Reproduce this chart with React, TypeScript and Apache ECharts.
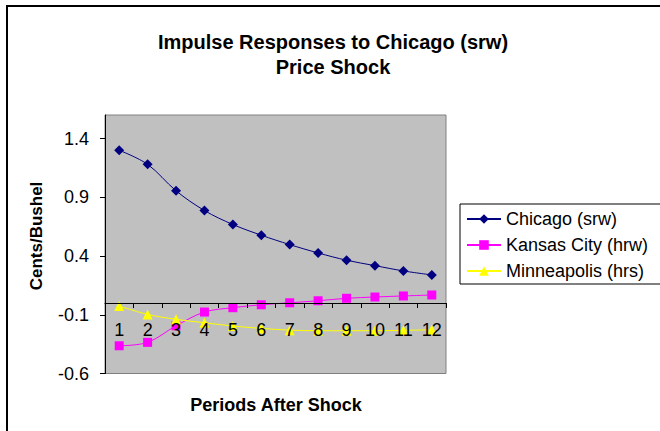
import React, { useEffect, useRef } from "react";
import * as echarts from "echarts";

const periods = ["1", "2", "3", "4", "5", "6", "7", "8", "9", "10", "11", "12"];
const chicago = [1.30, 1.18, 0.955, 0.787, 0.668, 0.577, 0.497, 0.426, 0.364, 0.318, 0.273, 0.239];
const kansasCity = [-0.364, -0.335, -0.194, -0.077, -0.04, -0.015, 0.002, 0.019, 0.04, 0.051, 0.06, 0.068];
const minneapolis = [-0.026, -0.097, -0.139, -0.168, -0.196, -0.216, -0.231, -0.236, -0.236, -0.236, -0.233, -0.228];
const yTicks = [-0.6, -0.1, 0.4, 0.9, 1.4];
const yMin = -0.6;
const yMax = 1.6;

const FONT = 'Arial, "Liberation Sans", sans-serif';

export default function App() {
  const ref = useRef<HTMLDivElement>(null);
  useEffect(() => {
    if (!ref.current) return;
    const chart = echarts.init(ref.current, null, { renderer: "svg" });
    const gridTop = 115;
    const gridHeight = 258.5;
    // distance from the grid bottom up to value 0, so the category axis sits on zero
    const zeroOffset = -((0 - yMin) / (yMax - yMin)) * gridHeight;
    const mk = (name: string, data: number[], color: string, symbol: string, size: number) => ({
      name,
      type: "line",
      data,
      smooth: 0.35,
      symbol,
      symbolSize: size,
      showSymbol: true,
      lineStyle: { color, width: 1 },
      itemStyle: { color, borderWidth: 0 },
      emphasis: { disabled: true },
    });
    chart.setOption({
      animation: false,
      textStyle: { fontFamily: FONT },
      title: {
        text: "Impulse Responses to Chicago (srw)\nPrice Shock",
        left: 328,
        top: 24,
        textAlign: "center",
        textStyle: { fontSize: 20, fontWeight: "bold", color: "#000", lineHeight: 25, fontFamily: FONT },
      },
      grid: {
        left: 105,
        top: gridTop,
        width: 341,
        height: gridHeight,
        show: true,
        backgroundColor: "#C0C0C0",
        borderColor: "#808080",
        borderWidth: 1,
      },
      legend: {
        orient: "vertical",
        left: 460,
        top: 204,
        padding: [6, 13, 4, 6],
        itemWidth: 34,
        itemHeight: 12,
        itemGap: 8,
        borderColor: "#000",
        borderWidth: 1,
        backgroundColor: "#fff",
        textStyle: { fontSize: 18, lineHeight: 18, color: "#000", fontFamily: FONT },
        data: ["Chicago (srw)", "Kansas City (hrw)", "Minneapolis (hrs)"],
      },
      xAxis: {
        type: "category",
        data: periods,
        boundaryGap: true,
        position: "bottom",
        offset: zeroOffset,
        z: 5,
        axisLine: { onZero: false, lineStyle: { color: "#000", width: 1 } },
        axisTick: { show: true, length: 5, lineStyle: { color: "#000" } },
        axisLabel: { color: "#000", fontSize: 18, margin: 18, fontFamily: FONT },
        splitLine: { show: false },
      },
      yAxis: {
        type: "value",
        min: yMin,
        max: yMax,
        axisLine: { show: true, onZero: false, lineStyle: { color: "#000", width: 1 } },
        axisTick: { show: true, length: 5, lineStyle: { color: "#000" }, customValues: yTicks },
        axisLabel: {
          color: "#000",
          fontSize: 18,
          margin: 16,
          fontFamily: FONT,
          customValues: yTicks,
          formatter: (v: number) => String(Math.round(v * 10) / 10),
        },
        splitLine: { show: false },
      },
      series: [
        mk("Chicago (srw)", chicago, "#000080", "diamond", 10),
        mk("Kansas City (hrw)", kansasCity, "#FF00FF", "rect", 9),
        mk("Minneapolis (hrs)", minneapolis, "#FFFF00", "triangle", 10),
      ],
      graphic: [
        {
          type: "rect",
          shape: { x: 7, y: 6, width: 700, height: 500 },
          style: { fill: "none", stroke: "#000", lineWidth: 2 },
          z: 100,
          silent: true,
        },
        {
          type: "text",
          x: 276,
          y: 405,
          style: {
            text: "Periods After Shock",
            fontSize: 18,
            fontWeight: "bold",
            fontFamily: FONT,
            fill: "#000",
            align: "center",
            verticalAlign: "middle",
          },
        },
        {
          type: "text",
          x: 36,
          y: 236,
          rotation: Math.PI / 2,
          style: {
            text: "Cents/Bushel",
            fontSize: 17,
            fontWeight: "bold",
            fontFamily: FONT,
            fill: "#000",
            align: "center",
            verticalAlign: "middle",
          },
        },
      ],
    });
    return () => chart.dispose();
  }, []);
  return (
    <div
      ref={ref}
      style={{ position: "fixed", left: 0, top: 0, width: 660, height: 431, background: "#fff" }}
    />
  );
}
